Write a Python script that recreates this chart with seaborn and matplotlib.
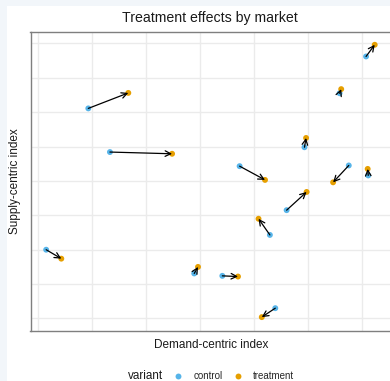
import numpy as np
import pandas as pd
import seaborn as sns
import matplotlib.pyplot as plt
from matplotlib.patches import Rectangle

# market positions (grid units, no tick labels shown)
control_x = [0.94, 1.34, 0.16, 2.90, 3.42, 4.40, 4.30, 4.61, 3.74, 5.76, 4.94, 6.12, 5.59, 6.08]
control_y = [6.11, 4.84, 2.00, 1.31, 1.24, 0.30, 2.43, 3.15, 4.43, 4.45, 4.98, 4.16, 6.55, 7.62]
treat_x = [1.68, 2.49, 0.44, 2.97, 3.71, 4.15, 4.09, 4.98, 4.21, 5.47, 4.97, 6.11, 5.62, 6.24]
treat_y = [6.56, 4.79, 1.74, 1.50, 1.22, 0.04, 2.90, 3.68, 4.03, 3.96, 5.25, 4.35, 6.67, 7.96]
variants = ['control', 'treatment']
colors = ['#56B4E9', '#E69F00']

n = len(control_x)
df = pd.DataFrame({
    'market': list(range(n)) * 2,
    'variant': [variants[0]] * n + [variants[1]] * n,
    'x': control_x + treat_x,
    'y': control_y + treat_y,
})

sns.set_style("white")
plt.rcParams['font.family'] = ['Liberation Sans', 'DejaVu Sans']

fig = plt.figure(figsize=(3.9, 3.81), dpi=100, facecolor='#f2f6fa')
W, H = 390, 381
# white card behind the chart
fig.patches.append(Rectangle((7 / W, 0), 1, 1 - 6 / H, transform=fig.transFigure,
                             facecolor='white', edgecolor='none', zorder=-10))

ax = fig.add_axes([30.5 / W, 1 - 330.7 / H, (392 - 30.5) / W, (330.7 - 31.7) / H])
ax.set_facecolor('white')

sns.scatterplot(data=df, x='x', y='y', hue='variant', hue_order=variants,
                palette=colors, s=18, linewidth=0, ax=ax, zorder=3)

for i in range(n):
    ax.annotate('', xy=(treat_x[i], treat_y[i]), xytext=(control_x[i], control_y[i]),
                arrowprops=dict(arrowstyle='->', color='black', lw=0.9,
                                shrinkA=0, shrinkB=0, mutation_scale=10),
                zorder=4)

ax.set_xlim(-0.13, 6.56)
ax.set_ylim(-0.355, 8.34)
ax.set_xticks(range(0, 7))
ax.set_yticks(range(0, 9))
ax.tick_params(length=0, labelbottom=False, labelleft=False)
ax.grid(True, color='#ebebeb', linewidth=1)
ax.set_axisbelow(True)
for side in ['left', 'top', 'bottom']:
    ax.spines[side].set_color('#7f7f7f')
    ax.spines[side].set_linewidth(1)
ax.spines['right'].set_visible(False)

ax.set_xlabel('Demand-centric index', fontsize=8.5, color='#1a1a1a', labelpad=6)
ax.set_ylabel('Supply-centric index', fontsize=8.5, color='#1a1a1a', labelpad=7)
fig.text(210 / W, 1 - 18 / H, 'Treatment effects by market', fontsize=10.2,
         ha='center', va='center', color='#1a1a1a')

sns.move_legend(ax, 'center left', bbox_to_anchor=(160 / W, 1 - 376 / H),
                bbox_transform=fig.transFigure, ncol=2, title=None, frameon=False,
                fontsize=7, handletextpad=0.55, columnspacing=0.55, markerscale=1.0)
fig.text(163 / W, 1 - 376 / H, 'variant', fontsize=8.4, ha='right', va='center',
         color='#1a1a1a')

fig.savefig('out.png', dpi=100, facecolor=fig.get_facecolor())
